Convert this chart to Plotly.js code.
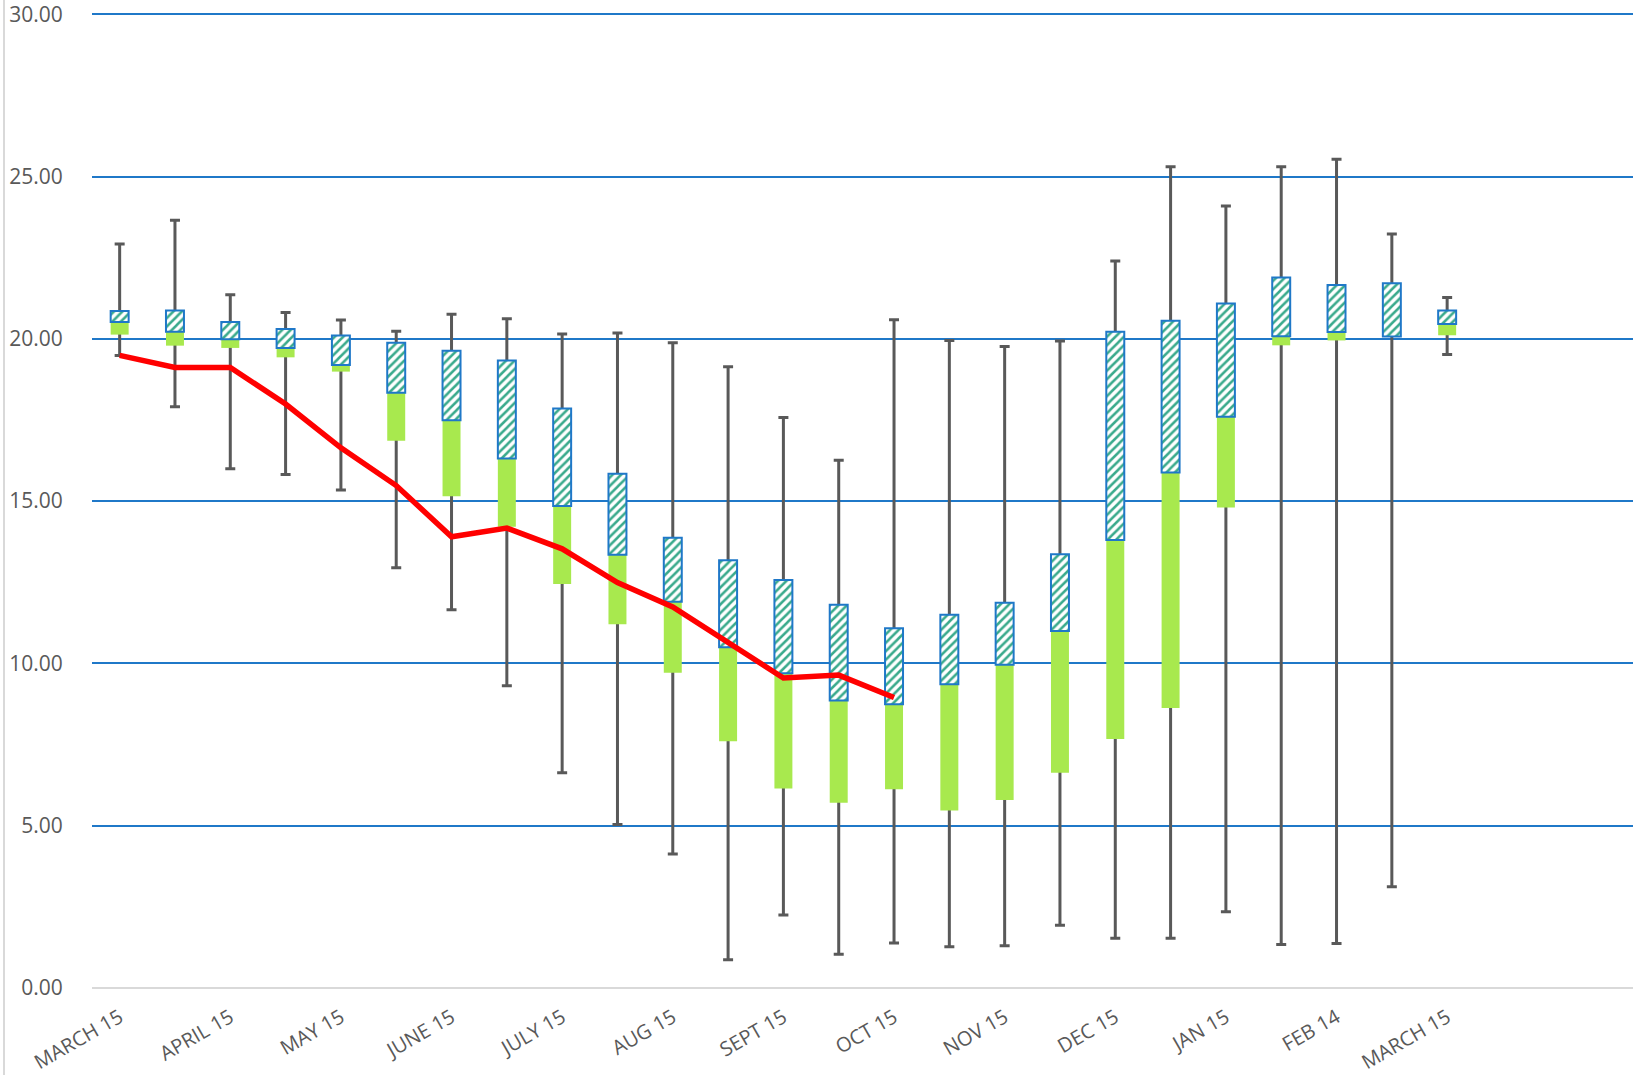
<!DOCTYPE html>
<html>
<head>
<meta charset="utf-8">
<script src="https://cdn.plot.ly/plotly-3.0.1.min.js"></script>
<style>html,body{margin:0;padding:0;background:#fff;}#chart{width:1633px;height:1075px;}</style>
</head>
<body>
<div id="chart"></div>
<script>
// Category positions (semi-monthly), labels shown every other position
const positions = [0,1,2,3,4,5,6,7,8,9,10,11,12,13,14,15,16,17,18,19,20,21,22,23,24];
const tickPositions = [0,2,4,6,8,10,12,14,16,18,20,22,24];
const tickLabels = ['MARCH 15','APRIL 15','MAY 15','JUNE 15','JULY 15','AUG 15','SEPT 15','OCT 15','NOV 15','DEC 15','JAN 15','FEB 14','MARCH 15'];

// Whisker extremes
const minVals = [19.49,17.91,16.00,15.82,15.34,12.95,11.65,9.31,6.63,5.04,4.13,0.87,2.25,1.04,1.39,1.27,1.30,1.93,1.53,1.53,2.35,1.34,1.37,3.12,19.52];
const maxVals = [22.92,23.65,21.36,20.81,20.58,20.23,20.76,20.62,20.15,20.18,19.88,19.14,17.58,16.26,20.59,19.95,19.76,19.93,22.40,25.30,24.09,25.30,25.53,23.23,21.27];
// Box parts
const q1Vals  = [20.13,19.79,19.72,19.43,18.99,16.86,15.15,14.21,12.45,11.21,9.71,7.60,6.15,5.71,6.12,5.47,5.79,6.63,7.67,8.63,14.80,19.80,19.95,20.07,20.11];
const medVals = [20.52,20.22,19.99,19.72,19.19,18.34,17.49,16.31,14.85,13.35,11.90,10.50,9.70,8.86,8.74,9.36,9.96,11.00,13.80,15.88,17.60,20.08,20.21,20.07,20.46];
const q3Vals  = [20.86,20.87,20.52,20.30,20.10,19.88,19.63,19.33,17.85,15.84,13.87,13.18,12.57,11.81,11.08,11.50,11.87,13.36,20.22,20.56,21.09,21.89,21.66,21.71,20.87];
// Current-season line
const linePositions = [0,1,2,3,4,5,6,7,8,9,10,11,12,13,14];
const lineVals = [19.49,19.12,19.12,17.99,16.64,15.48,13.90,14.17,13.53,12.49,11.74,10.63,9.55,9.64,8.95];

const BW = 0.325;

const whiskers = {
  type: 'bar', x: positions, y: q1Vals, width: BW,
  marker: {color: 'rgba(0,0,0,0)', line: {width: 0}},
  error_y: {
    type: 'data', symmetric: false,
    array: maxVals.map((m, i) => m - q1Vals[i]),
    arrayminus: q1Vals.map((q, i) => q - minVals[i]),
    color: '#595959', thickness: 3, width: 5
  },
  hoverinfo: 'skip', showlegend: false
};

const lowerBox = {
  type: 'bar', x: positions, base: q1Vals,
  y: medVals.map((m, i) => m - q1Vals[i]), width: BW,
  marker: {color: '#a8e94e', line: {width: 0}},
  showlegend: false
};

const upperBox = {
  type: 'bar', x: positions, base: medVals,
  y: q3Vals.map((q, i) => q - medVals[i]), width: BW,
  marker: {
    color: '#ffffff',
    line: {color: '#1f78c8', width: 2},
    pattern: {shape: '/', fgcolor: '#3aaa8c', bgcolor: '#ffffff', size: 6, solidity: 0.42}
  },
  showlegend: false
};

const redLine = {
  type: 'scatter', mode: 'lines', x: linePositions, y: lineVals,
  line: {color: '#ff0000', width: 5.5},
  showlegend: false
};

const layout = {
  width: 1633, height: 1075,
  margin: {l: 92, r: 0, t: 11, b: 87},
  paper_bgcolor: '#ffffff', plot_bgcolor: '#ffffff',
  barmode: 'overlay',
  font: {family: 'Open Sans, sans-serif', size: 20, color: '#595959'},
  xaxis: {
    type: 'linear', range: [-0.5, 27.36],
    tickmode: 'array', tickvals: tickPositions, ticktext: tickLabels,
    tickangle: -30, ticks: 'outside', ticklen: 9, tickcolor: 'rgba(0,0,0,0)',
    showgrid: false, zeroline: false, showline: false,
    ticklabeloverflow: 'allow',
    tickfont: {family: 'Open Sans, sans-serif', size: 20, color: '#595959'}
  },
  yaxis: {
    range: [0, 30.1], dtick: 5, tick0: 0, tickformat: '.2f',
    ticks: 'outside', ticklen: 24, tickcolor: 'rgba(0,0,0,0)',
    showgrid: true, gridcolor: '#1f78c8', gridwidth: 2,
    zeroline: true, zerolinecolor: '#d9d9d9', zerolinewidth: 2,
    showline: false,
    ticklabeloverflow: 'allow',
    tickfont: {family: 'Open Sans, sans-serif', size: 21, color: '#595959'}
  },
  shapes: [{
    type: 'line', xref: 'paper', yref: 'paper',
    x0: -0.0571, x1: -0.0571, y0: -0.1, y1: 1.1,
    line: {color: '#d9d9d9', width: 2}
  }]
};

Plotly.newPlot('chart', [whiskers, lowerBox, upperBox, redLine], layout, {displayModeBar: false, staticPlot: true});
</script>
</body>
</html>
